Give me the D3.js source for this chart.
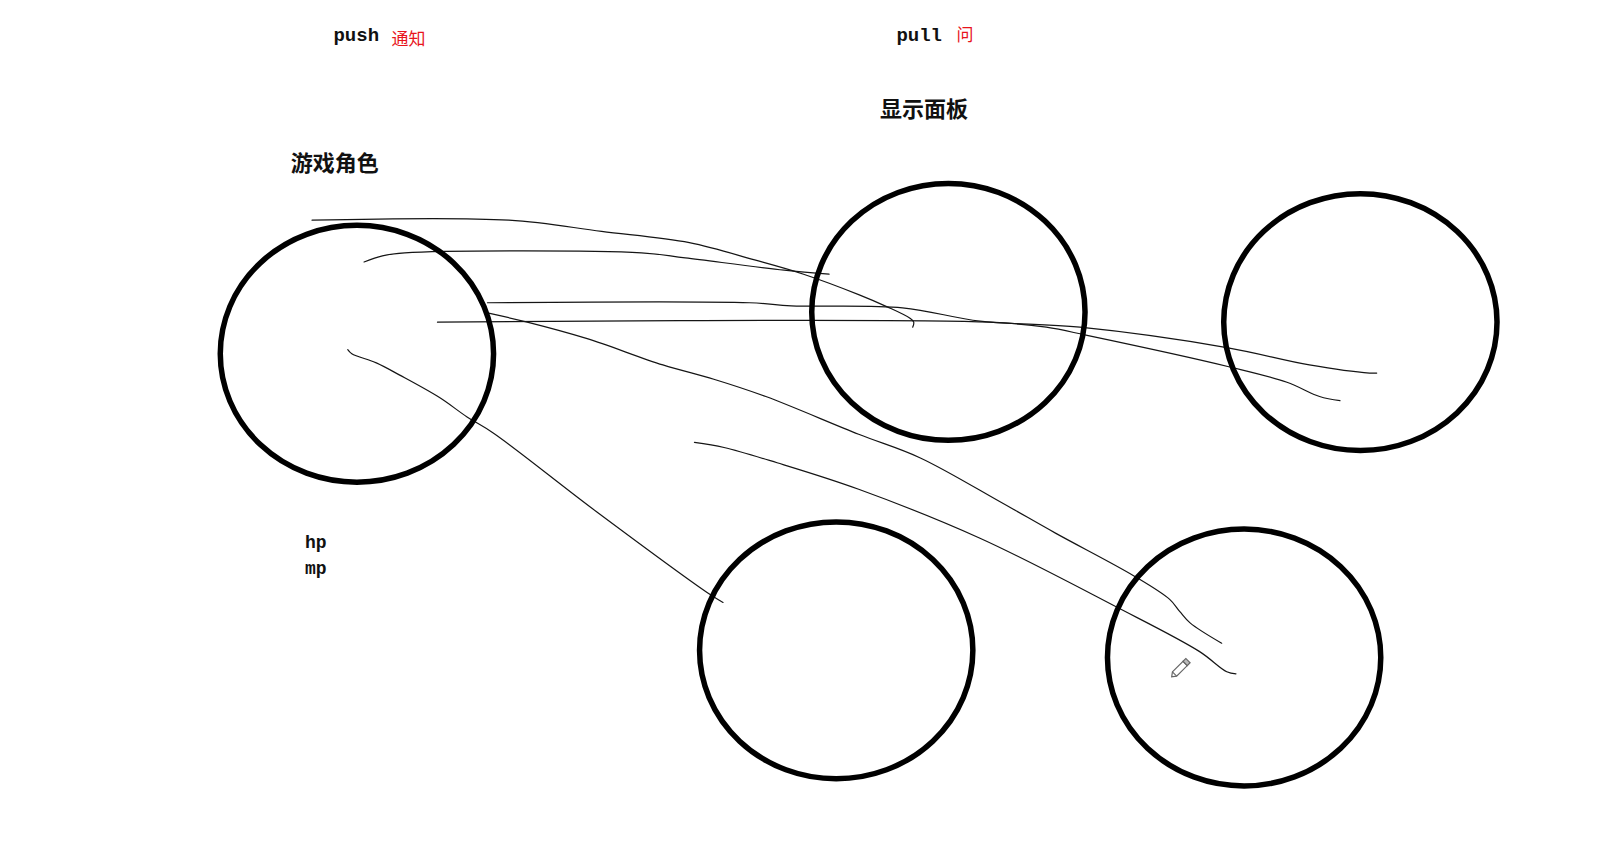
<!DOCTYPE html>
<html>
<head>
<meta charset="utf-8">
<script src="https://cdn.jsdelivr.net/npm/d3@7"></script>
<style>
  html, body { margin: 0; padding: 0; background: #fff; overflow: hidden; }
</style>
</head>
<body>
<div id="chart"></div>
<script>
// sketch coordinates, mapped to the page by the scales below
const circleCenters = [[350, 347], [930, 306], [1334, 316], [820, 638], [1220, 645]];
const circleRadius = [134, 126];

const strokeTop = [[306, 216], [499, 216], [590, 227], [676, 238], [740, 255], [788, 269],
  [842, 289], [870, 301], [892, 312], [896, 316], [895, 321]];
const strokeSecond = [[357, 257], [375, 251], [397, 248], [629, 248], [672, 253], [769, 265], [813, 269]];
const strokeUpperLong = [[478, 297], [735, 297], [776, 300], [885, 302], [961, 315], [1059, 321],
  [1203, 341], [1284, 358], [1343, 366], [1350, 366]];
const strokeLowerLong = [[429, 316], [971, 316], [1026, 321], [1066, 329], [1206, 360], [1262, 375],
  [1294, 389], [1314, 393]];
const strokeDiagonal = [[478, 307], [517, 316], [575, 332], [650, 358], [700, 372], [751, 389],
  [842, 426], [902, 449], [982, 493], [1035, 523], [1112, 565], [1147, 588], [1157, 600],
  [1167, 611], [1198, 631]];
const strokeParallel = [[681, 434], [710, 439], [762, 454], [842, 480], [961, 528], [1094, 595],
  [1176, 639], [1203, 659], [1212, 661]];
const strokeDown = [[341, 343], [345, 347], [369, 356], [392, 368], [431, 390], [458, 409],
  [484, 425], [585, 502], [696, 583], [709, 591]];
const strokes = [strokeTop, strokeSecond, strokeUpperLong, strokeLowerLong, strokeDiagonal,
  strokeParallel, strokeDown];

const titleTexts = ["游戏角色", "显示面板"];
const titleAnchors = [[285, 168], [863, 115]];
const modeTexts = ["push", "pull"];
const modeAnchors = [[327, 40], [879, 40]];
const noteTexts = ["通知", "问"];
const noteAnchors = [[384, 44], [938, 40]];
const statTexts = ["hp", "mp"];
const statAnchors = [[299, 538], [299, 563]];
const cursorAt = [1158, 655];

const width = 1599;
const height = 842;

const x = d3.scaleLinear().domain([0, 1568]).range([0, width]);
const y = d3.scaleLinear().domain([0, 826]).range([0, height]);

const svg = d3.select("#chart")
  .append("svg")
  .attr("width", width)
  .attr("height", height)
  .style("background", "white");

// thin hand-drawn strokes
const line = d3.line()
  .x(d => x(d[0]))
  .y(d => y(d[1]))
  .curve(d3.curveCatmullRom.alpha(0.5));

svg.selectAll("path.stroke")
  .data(strokes)
  .enter()
  .append("path")
  .attr("class", "stroke")
  .attr("d", line)
  .attr("fill", "none")
  .attr("stroke", "#151515")
  .attr("stroke-width", 1.2)
  .attr("stroke-linecap", "round");

// heavy circles
svg.selectAll("ellipse")
  .data(circleCenters)
  .enter()
  .append("ellipse")
  .attr("cx", d => x(d[0]))
  .attr("cy", d => y(d[1]))
  .attr("rx", d => x(d[0] + circleRadius[0]) - x(d[0]))
  .attr("ry", d => y(d[1] + circleRadius[1]) - y(d[1]))
  .attr("fill", "none")
  .attr("stroke", "#000")
  .attr("stroke-width", 5.5);

// labels
function addLabels(texts, anchors, opts) {
  svg.selectAll(null)
    .data(texts)
    .enter()
    .append("text")
    .attr("x", (d, i) => x(anchors[i][0]))
    .attr("y", (d, i) => y(anchors[i][1]))
    .attr("font-family", opts.family)
    .attr("font-size", opts.size)
    .attr("font-weight", opts.weight)
    .attr("fill", opts.color)
    .text(d => d);
}

addLabels(titleTexts, titleAnchors, { family: "'Noto Sans CJK SC', sans-serif", size: 22, weight: "bold", color: "#111" });
addLabels(modeTexts, modeAnchors, { family: "'Liberation Mono', monospace", size: 19, weight: "bold", color: "#111" });
addLabels(noteTexts, noteAnchors, { family: "'Noto Sans CJK SC', sans-serif", size: 17, weight: "normal", color: "#e8141c" });
addLabels(statTexts, statAnchors, { family: "'Liberation Mono', monospace", size: 18, weight: "bold", color: "#111" });

// the little pencil cursor left on the canvas
const pencil = svg.append("g")
  .attr("transform", `translate(${x(cursorAt[0])},${y(cursorAt[1])}) rotate(-45)`)
  .attr("fill", "#fff")
  .attr("stroke", "#666")
  .attr("stroke-width", 1.2);
pencil.append("path").attr("d", "M-9,-3 L6,-3 L6,3 L-9,3 L-13,0 Z");
pencil.append("path").attr("d", "M6,-3 L10,-3 L10,3 L6,3 Z").attr("fill", "#bbb");
pencil.append("line").attr("x1", -9).attr("y1", -3).attr("x2", -9).attr("y2", 3);
</script>
</body>
</html>
